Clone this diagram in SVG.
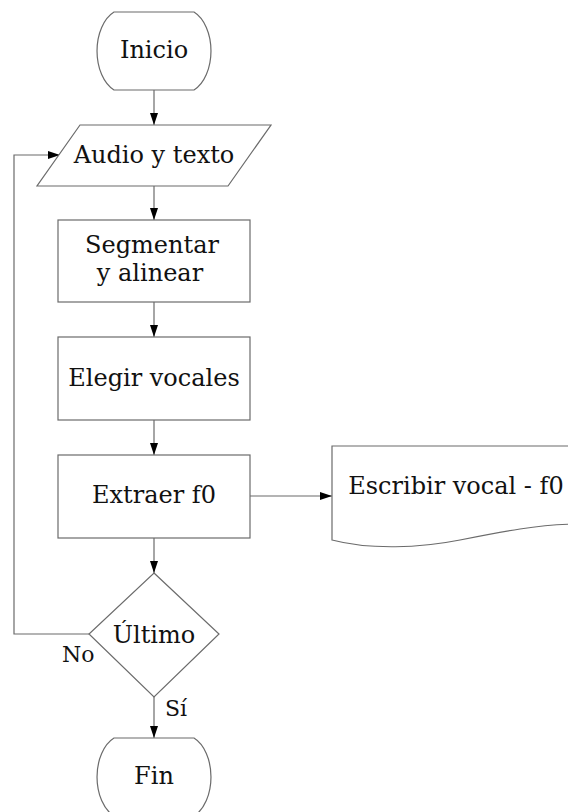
<svg xmlns="http://www.w3.org/2000/svg" width="568" height="812" viewBox="0 0 568 812">
  <style>
    .shape { fill: #ffffff; stroke: #6b6b6b; stroke-width: 1.2; }
    .line { fill: none; stroke: #6b6b6b; stroke-width: 1.2; }
    text { font-family: "DejaVu Serif", "Liberation Serif", "Times New Roman", Times, serif; fill: #111111; }
    .label { font-size: 24px; text-anchor: middle; }
    .small { font-size: 22px; }
  </style>
  <defs>
    <marker id="arrow" viewBox="0 0 12 8" refX="12" refY="4" markerWidth="12" markerHeight="8" markerUnits="userSpaceOnUse" orient="auto">
      <path d="M0,0 L12,4 L0,8 Z" fill="#000000"/>
    </marker>
  </defs>
  <rect width="568" height="812" fill="#ffffff"/>

  <!-- connectors -->
  <g id="connectors">
    <path class="line" d="M154,90 V125" marker-end="url(#arrow)"/>
    <path class="line" d="M154,186 V220" marker-end="url(#arrow)"/>
    <path class="line" d="M154,302 V337" marker-end="url(#arrow)"/>
    <path class="line" d="M154,420 V455" marker-end="url(#arrow)"/>
    <path class="line" d="M154,538 V573" marker-end="url(#arrow)"/>
    <path class="line" d="M250,496 H332" marker-end="url(#arrow)"/>
    <path class="line" d="M154,697 V738" marker-end="url(#arrow)"/>
    <path class="line" d="M89,634 H14 V155 H60" marker-end="url(#arrow)"/>
    <text class="small" x="62" y="662">No</text>
    <text class="small" x="165" y="716">Sí</text>
  </g>

  <!-- start terminal -->
  <g id="inicio">
    <path class="shape" d="M114,12 H194 A27 42 0 0 1 194,90 H114 A27 42 0 0 1 114,12 Z"/>
    <text class="label" x="154" y="58">Inicio</text>
  </g>

  <!-- input -->
  <g id="audio-texto">
    <path class="shape" d="M80,125 H271 L228,186 H37 Z"/>
    <text class="label" x="154" y="163">Audio y texto</text>
  </g>

  <g id="segmentar">
    <rect class="shape" x="58" y="220" width="192" height="82"/>
    <text class="label" x="152" y="253">Segmentar</text>
    <text class="label" x="150" y="281">y alinear</text>
  </g>

  <g id="elegir">
    <rect class="shape" x="58" y="337" width="192" height="83"/>
    <text class="label" x="154" y="386">Elegir vocales</text>
  </g>

  <g id="extraer">
    <rect class="shape" x="58" y="455" width="192" height="83"/>
    <text class="label" x="154" y="503">Extraer f0</text>
  </g>

  <!-- output document -->
  <g id="escribir">
    <path class="shape" d="M332,446 H580 V524 C540,524 500,532 460,540 C420,548 370,550 332,540 Z"/>
    <text class="label" x="456" y="494">Escribir vocal - f0</text>
  </g>

  <!-- decision -->
  <g id="ultimo">
    <path class="shape" d="M154,573 L219,634 L154,697 L89,634 Z"/>
    <text class="label" x="154" y="643">Último</text>
  </g>

  <!-- end terminal -->
  <g id="fin">
    <path class="shape" d="M114,738 H194 A27 42 0 0 1 194,816 H114 A27 42 0 0 1 114,738 Z"/>
    <text class="label" x="154" y="784">Fin</text>
  </g>
</svg>
